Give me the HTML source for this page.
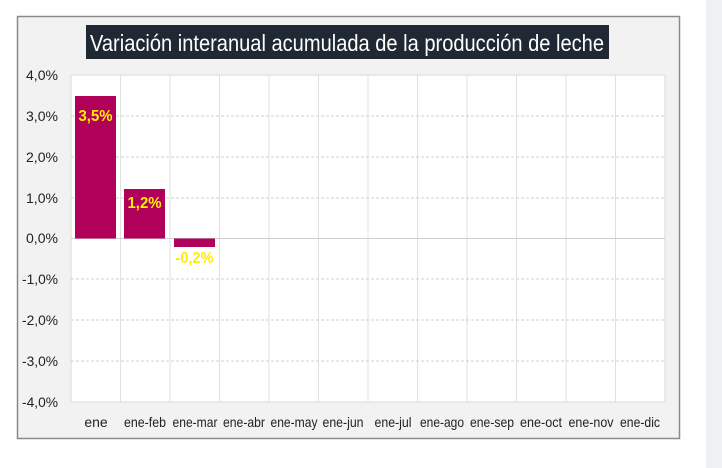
<!DOCTYPE html>
<html><head><meta charset="utf-8"><style>
body{margin:0;width:722px;height:468px;background:#fff;position:relative;overflow:hidden;font-family:"Liberation Sans",sans-serif}
</style></head><body>
<div style="position:absolute;left:706px;top:0;width:16px;height:468px;background:#eef0f4"></div>
<svg width="722" height="468" style="position:absolute;left:0;top:0" font-family="Liberation Sans, sans-serif">
<rect x="17.5" y="16.5" width="662" height="422" fill="#f2f2f2" stroke="#8a8a8a" stroke-width="1.5"/>
<rect x="86" y="25" width="523" height="34" fill="#1f2833"/>
<text x="90" y="51" fill="#fff" font-size="23" textLength="514" lengthAdjust="spacingAndGlyphs">Variación interanual acumulada de la producción de leche</text>
<rect x="71" y="75" width="594" height="327" fill="#fff" stroke="#d9d9d9"/>
<g stroke="#e0e0e0">
<line x1="120.5" y1="75" x2="120.5" y2="402"/><line x1="170" y1="75" x2="170" y2="402"/><line x1="219.5" y1="75" x2="219.5" y2="402"/><line x1="269" y1="75" x2="269" y2="402"/><line x1="318.5" y1="75" x2="318.5" y2="402"/><line x1="368" y1="75" x2="368" y2="402"/><line x1="417.5" y1="75" x2="417.5" y2="402"/><line x1="467" y1="75" x2="467" y2="402"/><line x1="516.5" y1="75" x2="516.5" y2="402"/><line x1="566" y1="75" x2="566" y2="402"/><line x1="615.5" y1="75" x2="615.5" y2="402"/>
</g>
<g stroke="#d0d0d0" stroke-dasharray="3,2">
<line x1="71" y1="116" x2="665" y2="116"/><line x1="71" y1="157" x2="665" y2="157"/><line x1="71" y1="198" x2="665" y2="198"/><line x1="71" y1="279" x2="665" y2="279"/><line x1="71" y1="320" x2="665" y2="320"/><line x1="71" y1="361" x2="665" y2="361"/>
</g>
<line x1="71" y1="238.5" x2="665" y2="238.5" stroke="#d0d0d0"/>
<rect x="75" y="96" width="41" height="142.5" fill="#b0005a"/>
<rect x="124" y="189" width="41" height="49.5" fill="#b0005a"/>
<rect x="174" y="238.5" width="41" height="8.5" fill="#b0005a"/>
<g fill="#ffee00" font-weight="bold" font-size="16" text-anchor="middle">
<text x="95.5" y="121" textLength="34" lengthAdjust="spacingAndGlyphs">3,5%</text><text x="144.5" y="208" textLength="34" lengthAdjust="spacingAndGlyphs">1,2%</text><text x="194.5" y="263" textLength="38" lengthAdjust="spacingAndGlyphs">-0,2%</text>
</g>
<g fill="#222" font-size="14" text-anchor="end">
<text x="58" y="80" textLength="32" lengthAdjust="spacingAndGlyphs">4,0%</text><text x="58" y="121" textLength="32" lengthAdjust="spacingAndGlyphs">3,0%</text><text x="58" y="162" textLength="32" lengthAdjust="spacingAndGlyphs">2,0%</text><text x="58" y="203" textLength="32" lengthAdjust="spacingAndGlyphs">1,0%</text><text x="58" y="243" textLength="32" lengthAdjust="spacingAndGlyphs">0,0%</text><text x="58" y="284" textLength="36" lengthAdjust="spacingAndGlyphs">-1,0%</text><text x="58" y="325" textLength="36" lengthAdjust="spacingAndGlyphs">-2,0%</text><text x="58" y="366" textLength="36" lengthAdjust="spacingAndGlyphs">-3,0%</text><text x="58" y="407" textLength="36" lengthAdjust="spacingAndGlyphs">-4,0%</text>
</g>
<g fill="#222" font-size="14" text-anchor="middle" lengthAdjust="spacingAndGlyphs">
<text x="96" y="427">ene</text><text x="145" y="427" textLength="42" lengthAdjust="spacingAndGlyphs">ene-feb</text><text x="195" y="427" textLength="45" lengthAdjust="spacingAndGlyphs">ene-mar</text><text x="244" y="427" textLength="42" lengthAdjust="spacingAndGlyphs">ene-abr</text><text x="294" y="427" textLength="47" lengthAdjust="spacingAndGlyphs">ene-may</text><text x="343" y="427" textLength="41" lengthAdjust="spacingAndGlyphs">ene-jun</text><text x="393" y="427" textLength="37" lengthAdjust="spacingAndGlyphs">ene-jul</text><text x="442" y="427" textLength="44" lengthAdjust="spacingAndGlyphs">ene-ago</text><text x="492" y="427" textLength="44" lengthAdjust="spacingAndGlyphs">ene-sep</text><text x="541" y="427" textLength="42" lengthAdjust="spacingAndGlyphs">ene-oct</text><text x="591" y="427" textLength="45" lengthAdjust="spacingAndGlyphs">ene-nov</text><text x="640" y="427" textLength="40" lengthAdjust="spacingAndGlyphs">ene-dic</text>
</g>
</svg>
</body></html>
